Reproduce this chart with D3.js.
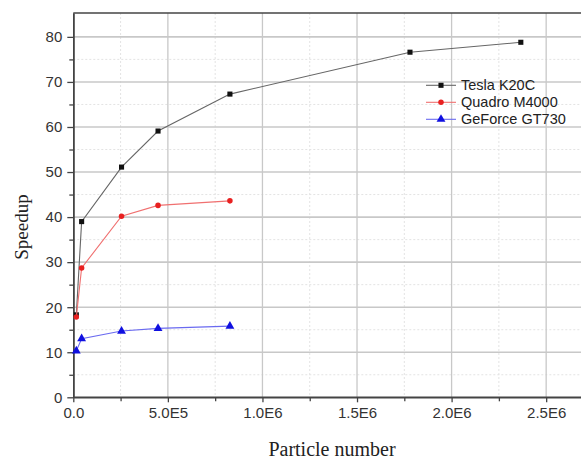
<!DOCTYPE html>
<html><head><meta charset="utf-8">
<script src="https://cdn.jsdelivr.net/npm/d3@7"></script>
<style>body{margin:0;background:#fff}</style>
</head><body>
<svg id="c" width="581" height="459"></svg>
<script>
const particles = [1.6e4, 4.4e4, 2.55e5, 4.48e5, 8.28e5, 1.78e6, 2.366e6];
const teslaK20C = [18.3, 39.0, 51.1, 59.1, 67.3, 76.6, 78.8];
const quadroM4000 = [17.8, 28.7, 40.2, 42.6, 43.6];
const geforceGT730 = [10.3, 13.0, 14.7, 15.3, 15.8];
const seriesNames = ["Tesla K20C", "Quadro M4000", "GeForce GT730"];
const xTicks = [0, 5e5, 1e6, 1.5e6, 2e6, 2.5e6];
const xTickLabels = ["0.0", "5.0E5", "1.0E6", "1.5E6", "2.0E6", "2.5E6"];
const yTicks = [0, 10, 20, 30, 40, 50, 60, 70, 80];

const svg = d3.select("#c");
const L = 73.3, R = 584, T = 13, B = 397.3;
const x = d3.scaleLinear().domain([0, 2.7e6]).range([L, R]);
const y = d3.scaleLinear().domain([0, 85.3]).range([B, T]);

const minorX = d3.range(2.5e5, 2.7e6, 5e5);
const minorY = d3.range(5, 85, 10);

// minor grid
svg.append("g").selectAll("line.mx").data(minorX).join("line")
  .attr("x1", d => x(d)).attr("x2", d => x(d)).attr("y1", T).attr("y2", B)
  .attr("stroke", "#e3e3e3").attr("stroke-width", 1).attr("stroke-dasharray", "2,2");
svg.append("g").selectAll("line.my").data(minorY).join("line")
  .attr("y1", d => y(d)).attr("y2", d => y(d)).attr("x1", L).attr("x2", 581)
  .attr("stroke", "#e3e3e3").attr("stroke-width", 1).attr("stroke-dasharray", "2,2");
// major grid
svg.append("g").selectAll("line").data(xTicks.slice(1)).join("line")
  .attr("x1", d => x(d)).attr("x2", d => x(d)).attr("y1", T).attr("y2", B)
  .attr("stroke", "#c8c8c8").attr("stroke-width", 1.3);
svg.append("g").selectAll("line").data(yTicks.slice(1)).join("line")
  .attr("y1", d => y(d)).attr("y2", d => y(d)).attr("x1", L).attr("x2", 581)
  .attr("stroke", "#c8c8c8").attr("stroke-width", 1.6);

// axes
const fontTick = "Liberation Sans, Arial, sans-serif";
const xAxis = svg.append("g").attr("transform", `translate(0,${B})`)
  .call(d3.axisBottom(x).tickValues(xTicks).tickFormat((d, i) => xTickLabels[i]).tickSize(5).tickSizeOuter(0).tickPadding(5));
const xMinor = svg.append("g").attr("transform", `translate(0,${B})`)
  .call(d3.axisBottom(x).tickValues(minorX).tickFormat("").tickSize(4).tickSizeOuter(0));
const yAxis = svg.append("g").attr("transform", `translate(${L},0)`)
  .call(d3.axisLeft(y).tickValues(yTicks).tickSize(6).tickSizeOuter(0).tickPadding(5));
const yMinor = svg.append("g").attr("transform", `translate(${L},0)`)
  .call(d3.axisLeft(y).tickValues(minorY).tickFormat("").tickSize(4).tickSizeOuter(0));
[xAxis, xMinor, yAxis, yMinor].forEach(g => {
  g.select(".domain").attr("stroke", "#444").attr("stroke-width", 1.5);
  g.selectAll(".tick line").attr("stroke", "#444").attr("stroke-width", 1.3);
  g.selectAll("text").attr("font-family", fontTick).attr("font-size", 15).attr("fill", "#333");
});
xAxis.select(".domain").attr("d", `M${L},0H581`);
// top border
svg.append("line").attr("x1", L).attr("x2", 581).attr("y1", T).attr("y2", T)
  .attr("stroke", "#444").attr("stroke-width", 1.5);

// series
const colors = ["#111", "#e82020", "#1010e0"];
const lineColors = ["#666", "#f07070", "#6a6af0"];
const data = [teslaK20C, quadroM4000, geforceGT730];
const symbols = [d3.symbolSquare, d3.symbolCircle, d3.symbolTriangle];
const symSizes = [26, 24, 34];
const line = d3.line().x(d => x(d[0])).y(d => y(d[1]));
data.forEach((vals, s) => {
  const pts = vals.map((v, i) => [particles[i], v]);
  svg.append("path").datum(pts).attr("d", line).attr("fill", "none")
    .attr("stroke", lineColors[s]).attr("stroke-width", 1.1);
  svg.append("g").selectAll("path").data(pts).join("path")
    .attr("transform", d => `translate(${x(d[0])},${y(d[1])})`)
    .attr("d", d3.symbol().type(symbols[s]).size(symSizes[s]))
    .attr("fill", colors[s]);
});

// legend
const lg = svg.append("g");
seriesNames.forEach((n, i) => {
  const yy = 85.3 + i * 17;
  lg.append("line").attr("x1", 426).attr("x2", 456).attr("y1", yy).attr("y2", yy)
    .attr("stroke", lineColors[i]).attr("stroke-width", 1.1);
  lg.append("path").attr("transform", `translate(441,${yy})`)
    .attr("d", d3.symbol().type(symbols[i]).size(symSizes[i]))
    .attr("fill", colors[i]);
  lg.append("text").attr("x", 461).attr("y", yy + 5).text(n)
    .attr("font-family", fontTick).attr("font-size", 14.5).attr("fill", "#222");
});

// axis titles
svg.append("text").attr("x", 332).attr("y", 456).attr("text-anchor", "middle")
  .attr("font-family", "Liberation Serif, Times New Roman, serif").attr("font-size", 20)
  .attr("fill", "#222").text("Particle number");
svg.append("text").attr("transform", "translate(28,227) rotate(-90)").attr("text-anchor", "middle")
  .attr("font-family", "Liberation Serif, Times New Roman, serif").attr("font-size", 19)
  .attr("fill", "#222").text("Speedup");
</script>
</body></html>
